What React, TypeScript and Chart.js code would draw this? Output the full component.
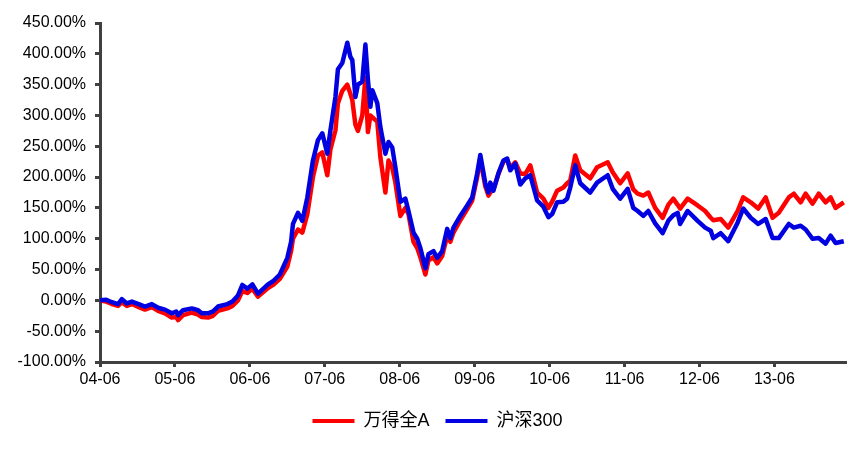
import React, { useEffect, useRef } from "react";
import { Chart, registerables } from "chart.js";

Chart.register(...registerables);

// x positions: months elapsed since 2004-06
const tickMonths = [0, 12, 24, 36, 48, 60, 72, 84, 96, 108];
const tickLabels = ["04-06", "05-06", "06-06", "07-06", "08-06", "09-06", "10-06", "11-06", "12-06", "13-06"];

const months = [
  0, 1.0, 1.9, 2.9, 3.5, 4.3, 5.1, 6.4, 7.2, 8.3, 9.3, 10.4, 11.5, 12.2, 12.5, 13.3, 14.7, 15.7, 16.3, 17.3,
  18.1, 18.9, 20.4, 21.2, 22.1, 22.8, 23.6, 24.4, 25.3, 26.9, 27.7, 28.8, 30.0, 30.6, 30.9, 31.7, 32.4, 33.2, 34.1, 34.9,
  35.6, 36.4, 36.9, 37.7, 38.1, 38.8, 39.6, 40.1, 40.4, 40.9, 41.3, 42.0, 42.5, 42.9, 43.3, 43.6, 44.4, 44.9, 45.7, 46.2,
  46.8, 47.3, 48.1, 48.9, 49.4, 50.2, 50.8, 51.3, 52.1, 52.6, 53.4, 54.0, 54.8, 55.6, 56.1, 56.6, 57.7, 58.8, 59.6, 60.4,
  60.9, 61.7, 62.2, 62.5, 63.0, 63.8, 64.6, 65.2, 65.7, 66.5, 67.3, 68.1, 68.9, 70.0, 71.0, 71.8, 72.4, 73.2, 74.2, 74.8,
  75.3, 76.1, 76.9, 78.5, 79.6, 81.3, 82.1, 83.3, 84.5, 85.4, 86.1, 87.0, 87.8, 88.9, 90.1, 91.0, 91.8, 92.5, 92.9, 94.1,
  95.7, 96.9, 97.8, 98.2, 99.4, 100.6, 102.1, 103.0, 104.2, 105.4, 106.6, 107.7, 108.7, 110.3, 111.1, 112.2, 113.0, 114.1, 115.1, 116.2,
  117.0, 117.8, 119.1,
];

// 沪深300 cumulative return (%)
const hs300 = [
  0, 1, -3, -6, 2, -5, -2, -7, -10, -6, -12, -15, -21, -18, -24, -16, -13, -16, -21, -21,
  -18, -10, -6, -2, 8, 25, 19, 26, 11, 26, 31, 42, 69, 95, 124, 142, 129, 167, 227, 260,
  271, 238, 276, 330, 375, 385, 418, 395, 390, 330, 350, 355, 415, 358, 314, 341, 320, 281, 238, 257,
  248, 216, 160, 165, 145, 110, 100, 85, 52, 75, 80, 69, 80, 116, 101, 118, 137, 154, 167, 206,
  236, 190, 175, 191, 178, 206, 227, 230, 211, 222, 188, 198, 203, 162, 152, 135, 140, 159, 160, 165,
  183, 219, 190, 175, 191, 203, 181, 165, 181, 150, 145, 137, 145, 125, 109, 129, 138, 142, 124, 145,
  129, 118, 113, 101, 109, 96, 126, 149, 134, 124, 132, 101, 101, 124, 118, 121, 115, 100, 101, 92,
  105, 93, 96,
];

// 万得全A cumulative return (%)
const windA = [
  0, -2, -6, -9, -3, -9, -6, -12, -15, -11, -17, -21, -28, -27, -32, -24, -20, -23, -27, -28,
  -25, -17, -13, -9, 0, 15, 12, 19, 6, 20, 25, 35, 55, 80, 100, 115, 110, 140, 200, 235,
  240, 203, 245, 276, 320, 340, 350, 335, 325, 285, 275, 300, 361, 273, 300, 297, 290, 232, 175, 227,
  215, 191, 137, 150, 140, 95, 85, 70, 42, 65, 70, 60, 72, 105, 95, 110, 130, 148, 162, 200,
  230, 185, 170, 175, 180, 205, 225, 228, 215, 224, 206, 205, 219, 175, 165, 150, 160, 178, 183, 190,
  194, 235, 211, 198, 216, 224, 208, 190, 206, 180, 173, 170, 175, 150, 134, 155, 165, 155, 149, 165,
  154, 145, 134, 130, 132, 118, 145, 167, 159, 149, 167, 134, 142, 167, 173, 159, 173, 157, 173, 159,
  167, 150, 159,
];

const FONT = "'Liberation Sans', Arial, 'Noto Sans CJK SC', sans-serif";
const AXIS = "#404040";

const legendShift = {
  id: "legendShift",
  afterLayout(chart: any) {
    const l = chart.legend;
    if (l) {
      l.left += 15;
      l.right += 15;
    }
  },
};

export default function App() {
  const ref = useRef<HTMLCanvasElement | null>(null);

  useEffect(() => {
    if (!ref.current) return;
    const chart = new Chart(ref.current, {
      type: "line",
      data: {
        datasets: [
          {
            label: "万得全A",
            data: months.map((m, i) => ({ x: m, y: windA[i] })),
            borderColor: "#ff0000",
            backgroundColor: "#ff0000",
            borderWidth: 4.5,
            pointRadius: 0,
            tension: 0,
            borderJoinStyle: "round",
            order: 1,
          },
          {
            label: "沪深300",
            data: months.map((m, i) => ({ x: m, y: hs300[i] })),
            borderColor: "#0000e0",
            backgroundColor: "#0000e0",
            borderWidth: 4.5,
            pointRadius: 0,
            tension: 0,
            borderJoinStyle: "round",
            order: 0,
          },
        ],
      },
      plugins: [legendShift],
      options: {
        responsive: false,
        animation: false,
        layout: { padding: { top: 23, right: 22, left: 0, bottom: 12 } },
        plugins: {
          tooltip: { enabled: false },
          legend: {
            position: "bottom",
            labels: {
              font: { family: FONT, size: 18 },
              color: "#000",
              boxWidth: 42,
              boxHeight: 4,
              padding: 16,
              sort: (a: any, b: any) => a.datasetIndex - b.datasetIndex,
              generateLabels: (c: any) => {
                const items = Chart.defaults.plugins.legend.labels.generateLabels(c);
                items.forEach((it: any) => {
                  it.lineWidth = 0;
                  it.fillStyle = it.strokeStyle;
                });
                return items;
              },
            },
          },
        },
        scales: {
          x: {
            type: "linear",
            min: 0,
            max: 119.3,
            afterBuildTicks: (s: any) => {
              s.ticks = tickMonths.map((v) => ({ value: v }));
            },
            afterFit: (s: any) => {
              s.height = 34;
            },
            ticks: {
              autoSkip: false,
              maxRotation: 0,
              padding: 3,
              color: "#000",
              font: { family: FONT, size: 16 },
              callback: (v: any) => tickLabels[tickMonths.indexOf(Number(v))] ?? "",
            },
            grid: { drawOnChartArea: false, drawTicks: true, tickLength: 5, color: AXIS, lineWidth: 3 },
            border: { display: true, color: AXIS, width: 3 },
          },
          y: {
            min: -100,
            max: 450,
            afterFit: (s: any) => {
              s.width = 100;
            },
            ticks: {
              stepSize: 50,
              padding: 9,
              color: "#000",
              font: { family: FONT, size: 16 },
              callback: (v: any) => Number(v).toFixed(2) + "%",
            },
            grid: { drawOnChartArea: false, drawTicks: true, tickLength: 5, color: AXIS, lineWidth: 3 },
            border: { display: true, color: AXIS, width: 3 },
          },
        },
      },
    } as any);
    return () => chart.destroy();
  }, []);

  return (
    <div style={{ position: "fixed", left: 0, top: 0, width: 867, height: 452, background: "#fff" }}>
      <canvas ref={ref} width={867} height={452} />
    </div>
  );
}
